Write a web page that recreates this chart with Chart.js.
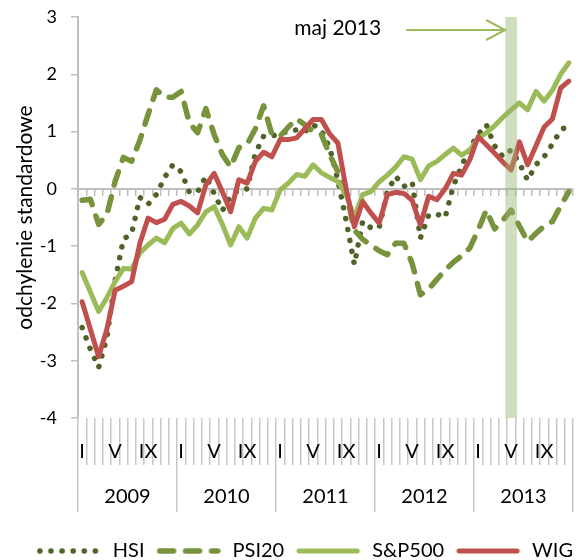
<!DOCTYPE html>
<html>
<head>
<meta charset="utf-8">
<script src="https://cdn.jsdelivr.net/npm/chart.js@4"></script>
<style>
  html, body { margin: 0; padding: 0; background: #ffffff; }
  #wrap { width: 583px; height: 560px; }
</style>
</head>
<body>
<div id="wrap"><canvas id="myChart"></canvas></div>
<script>
const YEARS = ['2009', '2010', '2011', '2012', '2013'];
const MONTH_MARKS = ['I', '', '', '', 'V', '', '', '', 'IX', '', '', ''];

const HSI = [
    -2.42, -2.8, -3.12, -2.6, -1.6, -0.88, -0.78, -0.15, -0.27, -0.1, 0.2, 0.42,
    0.3, -0.06, -0.05, 0.22, -0.08, -0.38, -0.12, -0.02, 0.0, 0.62, 0.92, 0.92,
    0.97, 1.0, 1.03, 1.0, 1.12, 1.02, 0.72, 0.15, -0.55, -1.32, -0.57, -0.68,
    -0.68, -0.05, 0.22, 0.04, 0.12, -0.86, -0.46, -0.44, -0.5, 0.05, 0.4, 0.72,
    0.95, 1.12, 0.75, 0.56, 0.68, 0.45, 0.15, 0.42, 0.56, 0.78, 1.02, 1.12
];
const PSI20 = [
    -0.2, -0.18, -0.62, -0.45, 0.13, 0.55, 0.48, 0.85, 1.3, 1.73, 1.6, 1.6,
    1.7, 1.15, 0.98, 1.4, 0.95, 0.6, 0.38, 0.72, 0.78, 1.05, 1.45, 0.95,
    0.92, 1.08, 1.22, 1.12, 1.0, 0.95, 0.6, 0.3, -0.05, -0.72, -0.88, -0.98,
    -1.08, -1.15, -0.95, -0.95, -1.3, -1.85, -1.75, -1.58, -1.42, -1.28, -1.17, -1.03,
    -0.72, -0.37, -0.7, -0.55, -0.37, -0.65, -0.92, -0.78, -0.65, -0.57, -0.3, -0.05
];
const SP500 = [
    -1.46, -1.8, -2.14, -1.9, -1.62, -1.39, -1.4, -1.12, -0.98, -0.86, -0.94, -0.69,
    -0.6, -0.79, -0.63, -0.4, -0.31, -0.62, -0.98, -0.66, -0.86, -0.51, -0.34, -0.37,
    -0.02, 0.1, 0.25, 0.22, 0.42, 0.28, 0.2, 0.13, -0.1, -0.5, -0.1, -0.05,
    0.12, 0.24, 0.38, 0.56, 0.52, 0.16, 0.4, 0.48, 0.6, 0.71, 0.59, 0.68,
    0.88, 0.98, 1.1, 1.25, 1.38, 1.5, 1.38, 1.7, 1.53, 1.72, 2.0, 2.2
];
const WIG = [
    -1.97, -2.45, -2.93, -2.45, -1.77, -1.7, -1.62, -0.95, -0.51, -0.59, -0.53, -0.27,
    -0.22, -0.3, -0.42, 0.07, 0.27, -0.05, -0.4, 0.16, 0.1, 0.48, 0.64, 0.56,
    0.86, 0.86, 0.89, 1.05, 1.21, 1.21, 0.96, 0.8, 0.0, -0.66, -0.22, -0.42,
    -0.6, -0.1, -0.06, -0.08, -0.2, -0.63, -0.13, -0.19, 0.0, 0.27, 0.24, 0.51,
    0.91, 0.77, 0.62, 0.47, 0.33, 0.82, 0.42, 0.75, 1.08, 1.22, 1.76, 1.88
];

// highlighted month: May 2013
const HIGHLIGHT_LABEL = 'maj 2013';
const HIGHLIGHT_YEAR = '2013';
const HIGHLIGHT_MONTH = 4;

const Y_MIN = -4;
const Y_MAX = 3;

const FONT = 'Lato';
const AXIS_GREY = '#bfbfbf';

const MONTH_LABELS = YEARS.flatMap(y => MONTH_MARKS.map((m, i) => `${y}-${i + 1}`));
const BAND_INDEX = YEARS.indexOf(HIGHLIGHT_YEAR) * 12 + HIGHLIGHT_MONTH;
const BAND = MONTH_LABELS.map((_, i) => i === BAND_INDEX ? [Y_MIN, Y_MAX] : null);

/** highlightNote: draws the caption and the arrow pointing at the highlighted month */
const highlightNote = {
    id: 'highlightNote',
    afterDatasetsDraw(chart) {
        const {ctx, chartArea, scales: {x}} = chart;
        const tipX = x.getPixelForValue(BAND_INDEX) - 6;
        const lineY = chartArea.top + 13;
        const startX = tipX - 99;

        ctx.save();
        ctx.strokeStyle = '#9BBB59';
        ctx.lineWidth = 2;
        ctx.beginPath();
        ctx.moveTo(startX, lineY);
        ctx.lineTo(tipX, lineY);
        ctx.moveTo(tipX - 19, lineY - 10);
        ctx.lineTo(tipX, lineY);
        ctx.lineTo(tipX - 19, lineY + 10);
        ctx.stroke();

        ctx.fillStyle = '#000';
        ctx.font = `21px ${FONT}`;
        ctx.textAlign = 'right';
        ctx.textBaseline = 'middle';
        ctx.fillText(HIGHLIGHT_LABEL, startX - 25, lineY - 2);
        ctx.restore();
    }
};

/** lineSample: small canvas with the dataset's line style, used as legend symbol */
function lineSample(ds) {
    const c = document.createElement('canvas');
    c.width = 64;
    c.height = 12;
    const g = c.getContext('2d');
    g.strokeStyle = ds.borderColor || '#000';
    g.lineWidth = ds.borderWidth || 1;
    g.lineCap = 'round';
    g.setLineDash(ds.borderDash || []);
    g.beginPath();
    g.moveTo(3, 6);
    g.lineTo(61, 6);
    g.stroke();
    return c;
}

/** lineSet: builds one index series in the chart.js format */
function lineSet(label, data, color, width, dash, order) {
    return {
        label: label,
        data: data,
        borderColor: color,
        backgroundColor: color,
        borderWidth: width,
        borderDash: dash,
        borderCapStyle: 'round',
        borderJoinStyle: 'round',
        pointRadius: 0,
        tension: 0,
        xAxisID: 'x',
        order: order
    };
}

const myChart = new Chart(document.getElementById('myChart'), {
    type: 'line',
    data: {
        labels: MONTH_LABELS,
        datasets: [
            lineSet('HSI', HSI, '#4F6228', 5.5, [0.1, 11], 4),
            lineSet('PSI20', PSI20, '#77933C', 5.5, [14, 12], 3),
            lineSet('S&P500', SP500, '#9BBB59', 5, [], 2),
            lineSet('WIG', WIG, '#C0504D', 5, [], 1),
            {
                type: 'bar',
                label: HIGHLIGHT_LABEL,
                data: BAND,
                backgroundColor: 'rgba(150, 180, 110, 0.45)',
                borderWidth: 0,
                barThickness: 11,
                grouped: false,
                xAxisID: 'x',
                order: 0
            }
        ]
    },
    options: {
        responsive: true,
        maintainAspectRatio: false,
        animation: false,
        layout: {
            padding: { top: 17, right: 0, bottom: -11, left: 0 }
        },
        scales: {
            x: {
                type: 'category',
                position: 'bottom',
                weight: 1,
                offset: true,
                grid: {
                    offset: true,
                    drawOnChartArea: false,
                    tickLength: 47,
                    color: '#c8c8c8',
                    lineWidth: 1.5
                },
                border: { display: false },
                ticks: {
                    autoSkip: false,
                    maxRotation: 0,
                    padding: -25,
                    color: '#000',
                    font: { family: FONT, size: 20 },
                    callback: (value, index) => MONTH_MARKS[index % 12]
                },
                afterFit: scale => { scale.height = 47; }
            },
            x2: {
                type: 'category',
                axis: 'x',
                position: 'bottom',
                weight: 2,
                labels: YEARS,
                offset: true,
                grid: {
                    offset: true,
                    drawOnChartArea: false,
                    tickLength: 47,
                    color: '#c8c8c8',
                    lineWidth: 1.5
                },
                border: { display: false },
                ticks: {
                    autoSkip: false,
                    maxRotation: 0,
                    padding: -27,
                    color: '#000',
                    font: { family: FONT, size: 20 }
                },
                afterFit: scale => { scale.height = 66; }
            },
            x0: {
                type: 'category',
                axis: 'x',
                position: { y: 0 },
                labels: MONTH_LABELS,
                offset: true,
                grid: {
                    offset: true,
                    drawOnChartArea: false,
                    tickLength: 6,
                    color: AXIS_GREY,
                    lineWidth: 1.5
                },
                border: { display: true, color: AXIS_GREY, width: 2 },
                ticks: { display: false }
            },
            y: {
                position: 'left',
                min: Y_MIN,
                max: Y_MAX,
                grid: {
                    drawOnChartArea: false,
                    tickLength: 7,
                    color: AXIS_GREY,
                    lineWidth: 1.5
                },
                border: { display: true, color: AXIS_GREY, width: 2 },
                ticks: {
                    stepSize: 1,
                    padding: 14,
                    color: '#000',
                    font: { family: FONT, size: 18 }
                },
                title: {
                    display: true,
                    text: 'odchylenie standardowe',
                    color: '#000',
                    font: { family: FONT, size: 21 },
                    padding: { top: 13, bottom: 0 }
                },
                afterFit: scale => {
                    scale.width = 78;
                    scale.paddingTop = 0;
                    scale.paddingBottom = 0;
                }
            },
            // empty strip on the right so the plot stops short of the edge
            yR: {
                position: 'right',
                grid: { display: false },
                border: { display: false },
                ticks: { display: false },
                afterFit: scale => {
                    scale.width = 10;
                    scale.paddingTop = 0;
                    scale.paddingBottom = 0;
                }
            }
        },
        plugins: {
            legend: {
                position: 'bottom',
                align: 'end',
                labels: {
                    usePointStyle: true,
                    pointStyleWidth: 68,
                    padding: 10,
                    color: '#000',
                    font: { family: FONT, size: 20 },
                    generateLabels: chart => {
                        const items = Chart.defaults.plugins.legend.labels.generateLabels(chart);
                        items.forEach(item => {
                            item.pointStyle = lineSample(chart.data.datasets[item.datasetIndex]);
                        });
                        return items;
                    },
                    filter: item => item.text !== HIGHLIGHT_LABEL,
                    sort: (a, b) => a.datasetIndex - b.datasetIndex
                }
            },
            tooltip: { enabled: false }
        }
    },
    plugins: [highlightNote]
});
</script>
</body>
</html>
